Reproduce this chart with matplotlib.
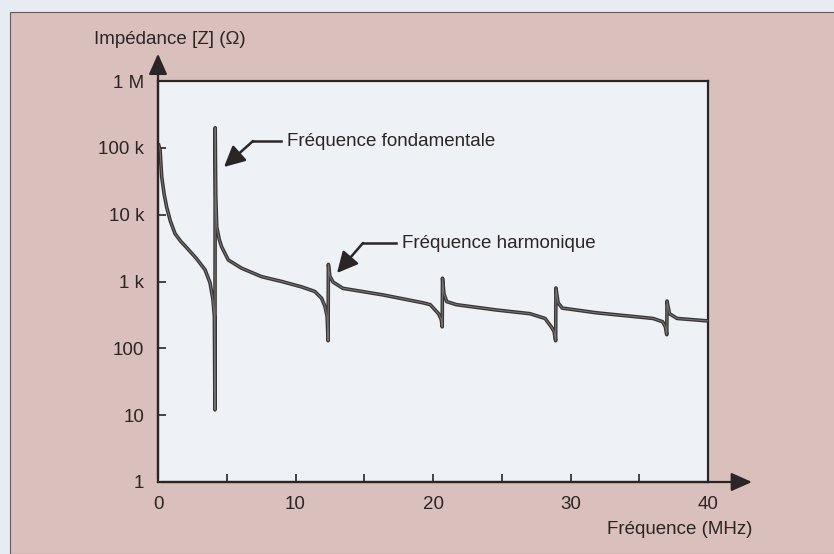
import matplotlib.pyplot as plt
from matplotlib.patches import Rectangle, FancyArrowPatch
import matplotlib.ticker as mticker

# values (frequency in MHz, impedance in ohm)
freq_mhz = [0.05, 0.15, 0.27, 0.45, 0.63, 0.9, 1.24, 1.65, 2.09, 2.8, 3.42, 3.78,
            4.0, 4.1, 4.14, 4.16, 4.2, 4.27, 4.45, 4.63, 5.11, 6.08, 7.54, 9.0,
            10.45, 11.4, 11.9, 12.15, 12.3, 12.37, 12.39, 12.5, 12.73, 13.45,
            16.36, 19.27, 19.8, 20.4, 20.6, 20.67, 20.69, 20.8, 21.0, 21.7,
            24.6, 27.05, 28.15, 28.6, 28.8, 28.92, 28.94, 29.1, 29.4, 31.9,
            36.0, 36.7, 36.9, 37.0, 37.02, 37.2, 37.75, 40.0]
impedance_ohm = [110000, 93000, 37000, 20000, 13000, 8000, 5200, 4000, 3200, 2200, 1500, 960,
                 530, 300, 12, 200000, 20000, 6600, 4300, 3300, 2100, 1580, 1180, 1000,
                 830, 710, 560, 420, 300, 130, 1800, 1200, 980, 790,
                 630, 480, 450, 330, 270, 210, 1120, 650, 500, 450,
                 375, 330, 280, 210, 180, 130, 800, 480, 400, 340,
                 280, 250, 210, 160, 510, 330, 280, 257]

y_ticks = [1, 10, 100, 1e3, 1e4, 1e5, 1e6]
y_labels = ["1", "10", "100", "1 k", "10 k", "100 k", "1 M"]
x_ticks = [0, 10, 20, 30, 40]
x_minor = [5, 15, 25, 35]

PINK = "#dac0bc"
PLOT_BG = "#eef2f6"
OUTER = "#e6ecf2"
INK = "#2b2525"
FS = 13.5

plt.rcParams["font.family"] = ["Liberation Sans", "DejaVu Sans"]

fig = plt.figure(figsize=(8.34, 5.54), dpi=100, facecolor=OUTER)
W, H = 834, 554
fig.patches.append(Rectangle((10 / W, 0), 1, (H - 12) / H, transform=fig.transFigure,
                             facecolor=PINK, edgecolor="#6a5a5a", linewidth=0.8, zorder=-5))

ax = fig.add_axes([158 / W, 1 - 482 / H, 550 / W, 401 / H])
ax.set_facecolor(PLOT_BG)
ax.set_yscale("log")
ax.set_xlim(0, 40)
ax.set_ylim(1, 1e6)

ax.plot(freq_mhz, impedance_ohm, color="#3a3535", lw=2.6, solid_joinstyle="round", zorder=3)
ax.plot(freq_mhz, impedance_ohm, color="#9a9a9a", lw=0.8, alpha=0.6, zorder=4)

ax.set_yticks(y_ticks)
ax.set_yticklabels(y_labels)
ax.yaxis.set_minor_locator(mticker.NullLocator())
ax.set_xticks(x_ticks)
ax.set_xticks(x_minor, minor=True)
ax.tick_params(axis="both", which="both", direction="in", length=6, width=1.2,
               color=INK, labelcolor=INK, labelsize=FS)
ax.tick_params(axis="y", pad=10)
ax.tick_params(axis="x", pad=10)
for s in ax.spines.values():
    s.set_color(INK)
    s.set_linewidth(1.6)

# axis arrows
for tip in [(0, 1.075), (1.085, 0)]:
    ax.add_patch(FancyArrowPatch((0, 0), tip, transform=ax.transAxes, clip_on=False,
                                 arrowstyle="-|>,head_length=0.9,head_width=0.4",
                                 mutation_scale=14, color=INK, lw=1.6, zorder=5))

fig.text(170 / W, 1 - 40 / H, "Impédance [Z] (Ω)", ha="center", va="center",
         fontsize=FS, color=INK)
fig.text(752 / W, 1 - 530 / H, "Fréquence (MHz)", ha="right", va="center",
         fontsize=FS, color=INK)

# annotations with broken arrows
notes = [("Fréquence fondamentale", (287, 141), (253, 141), (224, 167)),
         ("Fréquence harmonique", (402, 243), (363, 243), (337, 273))]
for label, txt, knee, tip in notes:
    fig.text(txt[0] / W, 1 - txt[1] / H, label, ha="left", va="center",
             fontsize=FS, color=INK)
    fig.add_artist(plt.Line2D([knee[0] / W, (txt[0] - 6) / W],
                              [1 - knee[1] / H, 1 - knee[1] / H],
                              transform=fig.transFigure, color=INK, lw=1.8))
    fig.patches.append(FancyArrowPatch((knee[0] / W, 1 - knee[1] / H), (tip[0] / W, 1 - tip[1] / H),
                                       transform=fig.transFigure,
                                       arrowstyle="-|>,head_length=0.9,head_width=0.45",
                                       mutation_scale=14, color=INK, lw=1.8,
                                       shrinkA=0, shrinkB=0))

fig.savefig("out.png", dpi=100, facecolor=OUTER)
